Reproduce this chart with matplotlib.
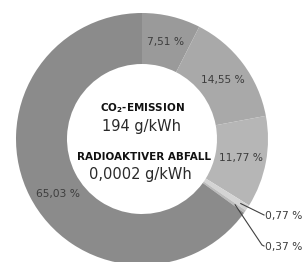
import matplotlib
matplotlib.use("Agg")
import matplotlib.pyplot as plt
import numpy as np

# data
shares = [7.51, 14.55, 11.77, 0.77, 0.37, 65.03]
share_labels = ["7,51 %", "14,55 %", "11,77 %", "0,77 %", "0,37 %", "65,03 %"]
colors = ["#9a9a9a", "#a9a9a9", "#b6b6b6", "#d4d4d4", "#bcbcbc", "#8b8b8b"]
center_lines = [r"CO$_\mathbf{2}$-EMISSION", "194 g/kWh", "RADIOAKTIVER ABFALL", "0,0002 g/kWh"]

W, H = 307, 262
fig = plt.figure(figsize=(W / 100, H / 100), dpi=100)
ax = fig.add_axes([0, 0, 1, 1])

cx, cy = 142, H - 139
R, r_in = 126, 75
wedges, _ = ax.pie(shares, startangle=90, counterclock=False, colors=colors,
                   center=(cx, cy), radius=R,
                   wedgeprops=dict(width=R - r_in, linewidth=0))
ax.set_xlim(0, W)
ax.set_ylim(0, H)
ax.set_aspect("equal")
ax.axis("off")

rmid = (R + r_in) / 2
label_color = "#3d3d3d"
fs = 7.7
for i, w in enumerate(wedges):
    mid = np.deg2rad((w.theta1 + w.theta2) / 2)
    if i in (0, 1, 2):
        ax.text(cx + rmid * np.cos(mid), cy + rmid * np.sin(mid) - 1, share_labels[i],
                ha="center", va="center", fontsize=fs, color=label_color)
    elif i == 5:
        a = np.deg2rad(-147)
        ax.text(cx + rmid * np.cos(a), cy + rmid * np.sin(a), share_labels[i],
                ha="center", va="center", fontsize=fs, color=label_color)

# leader lines for small slices
w3 = wedges[3]
a3 = np.deg2rad((w3.theta1 + w3.theta2) / 2)
p3 = (cx + 118 * np.cos(a3), cy + 118 * np.sin(a3))
ax.plot([p3[0], 262, 264], [p3[1], H - 214, H - 215], color="#404040", lw=0.8)
ax.text(265, H - 216, share_labels[3], ha="left", va="center", fontsize=fs, color=label_color)

w4 = wedges[4]
a4 = np.deg2rad((w4.theta1 + w4.theta2) / 2)
p4 = (cx + 114 * np.cos(a4), cy + 114 * np.sin(a4))
ax.plot([p4[0], 262, 264], [p4[1], H - 245, H - 246], color="#404040", lw=0.8)
ax.text(265, H - 247, share_labels[4], ha="left", va="center", fontsize=fs, color=label_color)

# centre text
ax.text(142, H - 108, center_lines[0], ha="center", va="center", fontsize=7.5,
        fontweight="bold", color="#111111")
ax.text(141, H - 127, center_lines[1], ha="center", va="center", fontsize=10.5,
        color="#2a2a2a")
ax.text(144, H - 157, center_lines[2], ha="center", va="center", fontsize=7.5,
        fontweight="bold", color="#111111")
ax.text(140, H - 175, center_lines[3], ha="center", va="center", fontsize=10.5,
        color="#2a2a2a")

fig.savefig("out.png", dpi=100)
